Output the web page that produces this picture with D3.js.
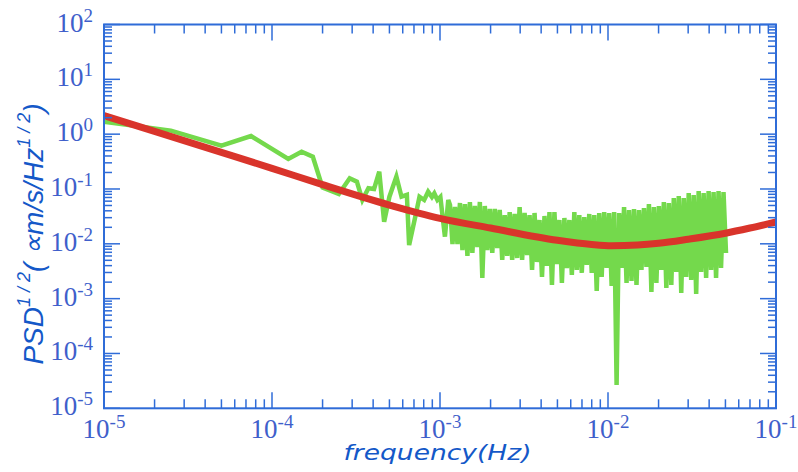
<!DOCTYPE html>
<html>
<head>
<meta charset="utf-8">
<script src="https://cdn.jsdelivr.net/npm/d3@7"></script>
<style>
  body { margin: 0; background: #ffffff; }
  svg { display: block; }
</style>
</head>
<body>
<svg id="chart" width="798" height="472"></svg>
<script>
// Smooth model spectrum (red)
const modelFreq = [1e-5, 2e-5, 5e-5, 1e-4, 2e-4, 5e-4, 1e-3, 2e-3, 5e-3, 8e-3, 1.05e-2, 1.5e-2, 2e-2, 3e-2, 5e-2, 7e-2, 1e-1];
const modelVal  = [2.17, 1.12, 0.465, 0.238, 0.120, 0.051, 0.0292, 0.0194, 0.0116, 0.00972, 0.00924, 0.0095, 0.0102, 0.0121, 0.0156, 0.0194, 0.025];

// Measured spectrum (green), low-frequency part
const measFreq = [1e-5, 2.5e-5, 5e-5, 7.5e-5, 1.25e-4, 1.5e-4, 1.75e-4, 2e-4, 2.5e-4, 2.9e-4, 3.2e-4, 3.45e-4,
                  3.75e-4, 4.05e-4, 4.35e-4, 4.65e-4, 5e-4, 5.5e-4, 5.9e-4, 6.35e-4, 6.55e-4, 7.2e-4, 7.55e-4,
                  8.05e-4, 8.5e-4, 8.95e-4, 9.25e-4, 9.65e-4, 1.005e-3, 1.07e-3, 1.12e-3];
const measVal  = [1.69, 1.16, 0.617, 0.925, 0.352, 0.479, 0.388, 0.106, 0.081, 0.157, 0.136, 0.063,
                  0.103, 0.100, 0.207, 0.0253, 0.0723, 0.168, 0.0723, 0.078, 0.0095, 0.036, 0.0723,
                  0.063, 0.089, 0.0714, 0.083, 0.063, 0.0714, 0.0135, 0.063];

// Measured spectrum (green), dense high-frequency part on an even log grid
const denseFreqRange = [1.147e-3, 5.04e-2];
const denseVal = [
  0.0510, 0.00992, 0.0469, 0.00992, 0.0555, 0.00771, 0.0532, 0.00600, 0.0579, 0.00680,
  0.0490, 0.00875, 0.0579, 0.00238, 0.0490, 0.00771, 0.0432, 0.00680, 0.0432, 0.00839,
  0.0414, 0.00507, 0.0335, 0.00600, 0.0380, 0.00507, 0.0350, 0.00551, 0.0469, 0.00507,
  0.0365, 0.00625, 0.0335, 0.00333, 0.0365, 0.00466, 0.0272, 0.00248, 0.0322, 0.00394,
  0.0380, 0.00177, 0.0380, 0.00428, 0.0272, 0.00193, 0.0296, 0.00362, 0.0272, 0.00270,
  0.0380, 0.00333, 0.0335, 0.00294, 0.0308, 0.00411, 0.0350, 0.00294, 0.0335, 0.00138,
  0.0365, 0.00248, 0.0380, 0.00362, 0.0365, 0.00170, 0.0380, 0.0000266, 0.0365, 0.00362,
  0.0469, 0.00193, 0.0414, 0.00210, 0.0432, 0.00177, 0.0414, 0.00333, 0.0450, 0.00378,
  0.0532, 0.00132, 0.0469, 0.00193, 0.0490, 0.00333, 0.0579, 0.00156, 0.0555, 0.00177,
  0.0685, 0.00306, 0.0745, 0.00127, 0.0685, 0.00248, 0.0845, 0.00219, 0.0777, 0.00122,
  0.0919, 0.00306, 0.0845, 0.00238, 0.0919, 0.00333, 0.0881, 0.00238, 0.0919, 0.00362,
  0.0881, 0.00680
];

// Decade exponents for tick labels
const xExponents = [-5, -4, -3, -2, -1];
const yExponents = [2, 1, 0, -1, -2, -3, -4, -5];

const svg = d3.select('#chart');
const plotLeft = 104, plotRight = 776, plotTop = 24.5, plotBottom = 408.3;

const x = d3.scaleLog().domain([1e-5, 1e-1]).range([plotLeft, plotRight]);
const y = d3.scaleLog().domain([1e-5, 1e2]).range([plotBottom, plotTop]);

const axisColor = '#2f6cd8';
const labelColor = '#3f5fcb';
const titleColor = '#1458c8';

// dense frequency grid
const [f0, f1] = denseFreqRange;
const nDense = denseVal.length;
const denseFreq = denseVal.map((_, i) =>
  Math.pow(10, Math.log10(f0) + (Math.log10(f1) - Math.log10(f0)) * i / (nDense - 1)));

const measured = measFreq.map((f, i) => [f, measVal[i]])
  .concat(denseFreq.map((f, i) => [f, denseVal[i]]));
const model = modelFreq.map((f, i) => [f, modelVal[i]]);

const plot = svg.append('g');

plot.append('path')
  .datum(measured)
  .attr('fill', 'none')
  .attr('stroke', '#74d94c')
  .attr('stroke-width', 4.5)
  .attr('d', d3.line().x(d => x(d[0])).y(d => y(d[1])));

plot.append('path')
  .datum(model)
  .attr('fill', 'none')
  .attr('stroke', '#d9342b')
  .attr('stroke-width', 7)
  .attr('d', d3.line().x(d => x(d[0])).y(d => y(d[1])).curve(d3.curveMonotoneX));

// Frame and ticks
const axes = svg.append('g').attr('stroke', axisColor).attr('fill', 'none');
const isMajor = v => Math.abs(Math.log10(v) - Math.round(Math.log10(v))) < 1e-6;

x.ticks().forEach(v => {
  const len = isMajor(v) ? 16 : 9;
  const px = x(v);
  axes.append('line').attr('x1', px).attr('x2', px).attr('y1', plotBottom).attr('y2', plotBottom - len).attr('stroke-width', 1.5);
  axes.append('line').attr('x1', px).attr('x2', px).attr('y1', plotTop).attr('y2', plotTop + len).attr('stroke-width', 1.5);
});
y.ticks().forEach(v => {
  const len = isMajor(v) ? 16 : 8;
  const py = y(v);
  axes.append('line').attr('y1', py).attr('y2', py).attr('x1', plotLeft).attr('x2', plotLeft + len).attr('stroke-width', 1.5);
  axes.append('line').attr('y1', py).attr('y2', py).attr('x1', plotRight).attr('x2', plotRight - len).attr('stroke-width', 1.5);
});
axes.append('rect')
  .attr('x', plotLeft).attr('y', plotTop)
  .attr('width', plotRight - plotLeft).attr('height', plotBottom - plotTop)
  .attr('stroke-width', 2);

// Tick labels
const labels = svg.append('g')
  .attr('font-family', '"Liberation Serif", "DejaVu Serif", serif')
  .attr('fill', labelColor);

function powerLabel(sel, e) {
  sel.append('tspan').attr('font-size', 27).text('10');
  sel.append('tspan').attr('font-size', 19).attr('dy', -10).text(String(e));
}

xExponents.forEach(e => {
  const t = labels.append('text')
    .attr('x', x(Math.pow(10, e)))
    .attr('y', 438)
    .attr('text-anchor', 'middle');
  powerLabel(t, e);
});
yExponents.forEach(e => {
  const t = labels.append('text')
    .attr('x', 93)
    .attr('y', y(Math.pow(10, e)) + 7)
    .attr('text-anchor', 'end');
  powerLabel(t, e);
});

// Axis titles
svg.append('text')
  .attr('x', 437.5)
  .attr('y', 460)
  .attr('text-anchor', 'middle')
  .attr('font-family', '"DejaVu Sans", Verdana, sans-serif')
  .attr('font-style', 'italic')
  .attr('font-size', 22)
  .attr('textLength', 188)
  .attr('lengthAdjust', 'spacingAndGlyphs')
  .attr('fill', titleColor)
  .text('frequency(Hz)');

const yTitle = svg.append('text')
  .attr('transform', 'translate(43,234) rotate(-90)')
  .attr('text-anchor', 'middle')
  .attr('font-family', '"Liberation Sans", Arial, sans-serif')
  .attr('font-style', 'italic')
  .attr('font-size', 28)
  .attr('fill', titleColor);
yTitle.append('tspan').text('PSD');
yTitle.append('tspan').attr('font-size', 18).attr('dy', -13).text('1 / 2');
yTitle.append('tspan').attr('dy', 13).text('( ∝m/s/Hz');
yTitle.append('tspan').attr('font-size', 18).attr('dy', -13).text('1 / 2');
yTitle.append('tspan').attr('dy', 13).text(')');
</script>
</body>
</html>
